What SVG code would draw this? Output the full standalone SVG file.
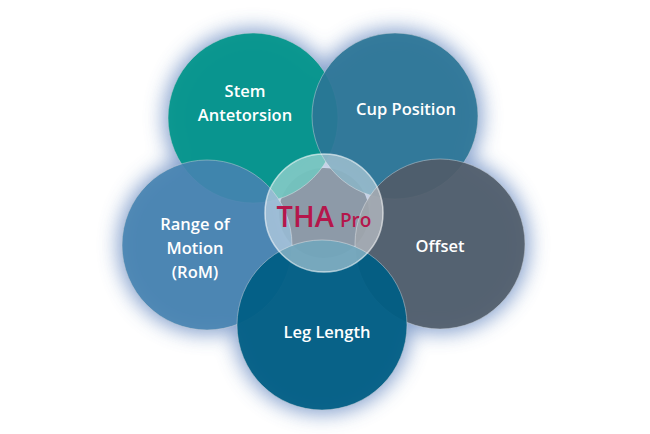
<svg xmlns="http://www.w3.org/2000/svg" width="650" height="434" viewBox="0 0 650 434">
<defs>
<filter id="glow" x="-30%" y="-30%" width="160%" height="160%">
<feGaussianBlur stdDeviation="10"/>
</filter>
<style>
.c{stroke:#c8d0d8;stroke-opacity:0.5;stroke-width:1}
.t{font-family:"Open Sans","Noto Sans",sans-serif;font-size:16.5px;font-weight:600;fill:#ffffff;text-anchor:middle}
</style>
</defs>
<rect width="650" height="434" fill="#ffffff"/>
<g filter="url(#glow)" fill="#6f90c4" opacity="0.85">
<circle cx="253" cy="118" r="89"/>
<circle cx="395" cy="116" r="87"/>
<circle cx="207" cy="245" r="89"/>
<circle cx="440" cy="244" r="89"/>
<circle cx="322" cy="325" r="89"/>
</g>
<circle cx="324" cy="213" r="45" fill="#314761"/>
<g id="stem"><circle class="c" cx="253" cy="118" r="85" fill="#00958a" fill-opacity="0.93"/>
<text class="t" x="245" y="97">Stem</text><text class="t" x="245" y="121">Antetorsion</text></g>
<g id="cup"><circle class="c" cx="395" cy="116" r="83" fill="#2b7596" fill-opacity="0.92"/>
<text class="t" x="406" y="115">Cup Position</text></g>
<g id="rom"><circle class="c" cx="207" cy="245" r="85" fill="#4683b0" fill-opacity="0.9"/>
<text class="t" x="195" y="230">Range of</text><text class="t" x="195" y="254">Motion</text><text class="t" x="195" y="278">(RoM)</text></g>
<g id="offset"><circle class="c" cx="440" cy="244" r="85" fill="#505c69" fill-opacity="0.92"/>
<text class="t" x="440" y="252">Offset</text></g>
<g id="leg"><circle class="c" cx="322" cy="325" r="85" fill="#005d84" fill-opacity="0.94"/>
<text class="t" x="327" y="338">Leg Length</text></g>
<g id="center"><circle cx="324" cy="213" r="59" fill="#ffffff" fill-opacity="0.45" stroke="#ffffff" stroke-opacity="0.6" stroke-width="1.5"/>
<text x="324" y="227" font-family="'Open Sans','Noto Sans',sans-serif" font-weight="600" fill="#b5164b" text-anchor="middle"><tspan font-size="29">THA</tspan><tspan font-size="19" dx="6">Pro</tspan></text></g>
</svg>
